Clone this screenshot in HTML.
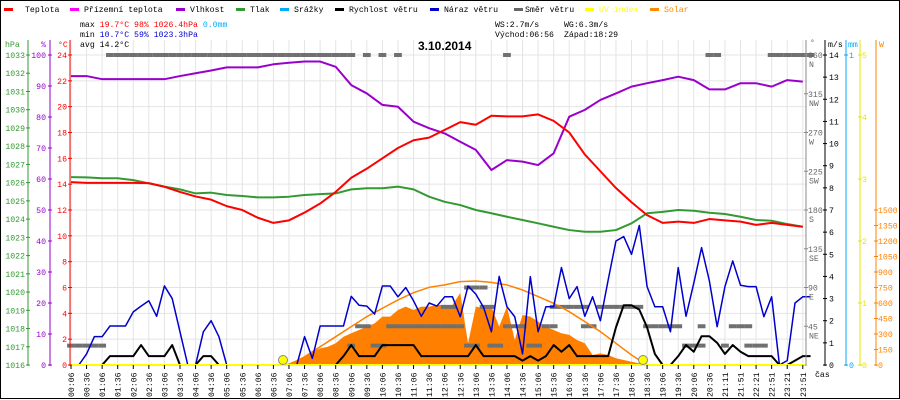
<!DOCTYPE html>
<html><head><meta charset="utf-8"><style>
html,body{margin:0;padding:0;background:#fff;}
svg{display:block;font-family:"Liberation Mono",monospace;}
</style></head><body>
<svg id="chart" width="900" height="400" viewBox="0 0 900 400" xmlns="http://www.w3.org/2000/svg">
<rect x="0.5" y="0.5" width="899" height="398" fill="#fff" stroke="#000"/>
<g id="grid"></g>
<g id="marks"></g>
<g id="axes"></g>
<g id="legend" font-size="8.2">
 <rect x="4" y="8" width="9" height="3" fill="#f00"/><text x="25" y="12">Teplota</text>
 <rect x="70" y="8" width="9" height="3" fill="#f0f"/><text x="84" y="12">Přízemní teplota</text>
 <rect x="176" y="8" width="9" height="3" fill="#90c"/><text x="190" y="12">Vlhkost</text>
 <rect x="236" y="8" width="9" height="3" fill="#393"/><text x="250" y="12">Tlak</text>
 <rect x="280" y="8" width="9" height="3" fill="#0af"/><text x="294" y="12">Srážky</text>
 <rect x="335" y="8" width="9" height="3" fill="#000"/><text x="349" y="12">Rychlost větru</text>
 <rect x="430" y="8" width="9" height="3" fill="#00c"/><text x="444" y="12">Náraz větru</text>
 <rect x="514" y="8" width="9" height="3" fill="#666"/><text x="525" y="12">Směr větru</text>
 <rect x="585" y="8" width="9" height="3" fill="#ff0"/><text x="599" y="12" fill="#ff0">UV index</text>
 <rect x="650" y="8" width="9" height="3" fill="#f80"/><text x="664" y="12" fill="#f80">Solar</text>
</g>
<g id="stats" font-size="8.2">
 <text x="80" y="27">max <tspan fill="#f00">19.7°C  98%  1026.4hPa</tspan>   <tspan fill="#0af">0.0mm</tspan></text>
 <text x="80" y="37">min <tspan fill="#00c">10.7°C  59%  1023.3hPa</tspan></text>
 <text x="80" y="47">avg 14.2°C</text>
 <text x="495" y="27">WS:2.7m/s</text>
 <text x="564" y="27">WG:6.3m/s</text>
 <text x="495" y="37">Východ:06:56</text>
 <text x="564" y="37">Západ:18:29</text>
</g>
<text x="418" y="50" font-family="Liberation Sans,sans-serif" font-weight="bold" font-size="12">3.10.2014</text>
</svg>
<script>
const timeLabels=["00:06","00:36","01:06","01:36","02:06","02:36","03:06","03:36","04:06","04:36","05:06","05:36","06:06","06:36","07:06","07:36","08:06","08:36","09:06","09:36","10:06","10:36","11:06","11:36","12:06","12:36","13:06","13:36","14:06","14:36","15:06","15:36","16:06","16:36","17:06","17:36","18:06","18:36","19:06","19:36","20:06","20:36","21:11","21:51","22:21","22:51","23:21","23:51"];
const temperature=[14.16,14.1,14.1,14.1,14.1,14.08,13.8,13.4,13.05,12.8,12.3,12.0,11.4,11.0,11.2,11.8,12.5,13.4,14.5,15.2,16.0,16.8,17.4,17.6,18.2,18.8,18.6,19.3,19.25,19.25,19.4,18.9,18.0,16.3,15.0,13.7,12.6,11.6,11.0,11.1,11.0,11.3,11.2,11.1,10.85,11.0,10.85,10.7];
const humidity=[93.2,93.2,92.2,92.2,92.2,92.2,92.2,93.2,94.1,95,96,96,96,97,97.5,97.9,97.9,96.2,90.3,87.6,83.9,83.3,78.5,76.4,74.7,72,69.4,62.9,66.1,65.6,64.5,68.3,80.1,82.3,85.5,87.6,89.8,90.9,91.9,93,91.9,88.9,88.9,90.9,90.9,89.8,91.9,91.4];
const pressure=[1026.3,1026.29,1026.24,1026.24,1026.14,1025.96,1025.78,1025.63,1025.41,1025.45,1025.32,1025.27,1025.19,1025.19,1025.23,1025.32,1025.37,1025.41,1025.63,1025.69,1025.69,1025.78,1025.63,1025.23,1024.95,1024.77,1024.5,1024.32,1024.13,1023.95,1023.77,1023.58,1023.4,1023.31,1023.31,1023.4,1023.77,1024.32,1024.4,1024.5,1024.46,1024.35,1024.28,1024.13,1023.95,1023.91,1023.73,1023.58];
const windSpeed=[0,0,0,0,0,0.4,0.4,0.4,0.4,0.9,0.4,0.4,0.4,0.9,0,0,0,0.4,0.4,0,0,0,0,0,0,0,0,0,0,0,0,0,0,0,0,0.4,0.9,0.4,0.4,0.4,0.9,0.9,0.9,0.9,0.9,0.4,0.4,0.4,
0.4,0.4,0.4,0.4,0.9,0.4,0.4,0.4,0.4,0.4,0.2,0.4,0.2,0.4,0.9,0.6,0.9,0.4,0.4,0.4,0.4,0.4,1.7,2.7,2.7,2.5,1.7,0.5,0,0,0.4,0.9,0.6,1.3,1.3,1.0,0.5,0.9,0.6,0.4,0.4,0.4,0.4,0,0,0.2,0.4,0.4];
const windGust=[0,0,0.5,1.28,1.28,1.76,1.76,1.76,2.4,2.66,2.9,2.2,3.57,3.0,1.5,0,0,1.5,2.0,1.28,0,0,0,0,0,0,0,0,0,0,1.28,0.3,1.76,1.76,1.76,1.76,3.1,2.7,2.66,2.3,3.57,3.57,3.08,3.5,2.9,2.2,2.8,2.66,
3.08,3.08,2.18,3.57,3.2,2.6,1.5,4.0,2.63,2.18,0.5,3.99,1.5,2.63,2.63,4.4,3.0,3.54,2.2,3.08,2.0,3.84,5.6,5.8,5.0,6.3,3.54,2.63,2.63,1.5,4.4,2.2,3.7,5.3,3.8,1.73,3.54,4.7,3.6,3.54,3.54,2.18,3.08,0,0.2,2.8,3.08,3.08];
const solarStart=27;
const solar=[0,16,48,81,129,161,177,210,274,307,339,371,403,468,468,532,565,532,565,565,581,581,581,697,210,565,549,565,371,565,242,484,468,420,371,339,307,291,242,210,97,113,97,65,48,32,16,0];
const solarTheoryStart=14;
const solarTheory=[0,80,177,274,371,468,549,630,700,752,775,807,813,800,775,726,662,597,516,420,323,210,97,0];
const dirMain=[22.5,22.5,22.5,22.5,22.5,360,360,360,360,360,360,360,360,360,360,360,360,360,360,360,360,360,360,360,360,360,360,360,360,360,360,360,360,360,360,360,360,45,45,22.5,22.5,45,45,45,45,45,45,45,
45,67.5,45,90,90,90,67.5,22.5,45,45,45,22.5,22.5,45,67.5,67.5,67.5,67.5,67.5,45,67.5,67.5,67.5,67.5,67.5,67.5,45,45,45,45,45,22.5,22.5,22.5,360,360,22.5,45,45,45,22.5,22.5,360,360,360,360,360,360];
const dirAlt=[null,null,null,null,null,null,null,null,null,null,null,null,null,null,null,null,null,null,null,null,null,null,null,null,null,null,null,null,null,null,null,null,null,null,null,null,22.5,null,360,null,360,null,360,null,null,null,null,null,
67.5,45,null,22.5,22.5,67.5,22.5,null,360,null,null,null,null,null,45,null,null,null,45,null,null,null,null,null,null,null,null,null,null,null,null,null,null,45,null,null,null,null,null,22.5,null,null,null,null,null,null,null,null];

const NS='http://www.w3.org/2000/svg';
const xi=i=>71+i*15.57, xk=k=>71+k*7.785;
const yT=t=>365-t*12.917, yH=h=>365-h*3.1, yP=p=>365-(p-1016)*18.235;
const yW=v=>365-v*22.143, yS=w=>365-w*0.10333, yD=d=>365-d*0.8611;
const yUV=u=>365-u*62, yMM=m=>365-m*310;
function mk(tag,attrs,parent){const e=document.createElementNS(NS,tag);for(const a in attrs)e.setAttribute(a,attrs[a]);parent.appendChild(e);return e;}
const grid=document.getElementById('grid'),marks=document.getElementById('marks'),axes=document.getElementById('axes');

for(let i=0;i<timeLabels.length;i++){const l=mk('line',{x1:xi(i),x2:xi(i),y1:40,y2:365,stroke:'#e4e4e4'},grid);

}
for(let t=0;t<=24;t+=2){const l=mk('line',{x1:70,x2:806,y1:yT(t),y2:yT(t),stroke:'#e4e4e4'},grid);

}

// solar fill
let sp=`M${xk(solarStart)},365 `;solar.forEach((w,j)=>{sp+=`L${xk(solarStart+j)},${yS(w)} `;});sp+=`L${xk(solarStart+solar.length-1)},365Z`;
const sf=mk('path',{d:sp,fill:'#ff8000'},marks);


// wind direction bars
function dirBars(arr,name){arr.forEach((d,k)=>{if(d===null)return;const r=mk('rect',{x:xk(k)-3.9,y:yD(d)-2,width:7.8,height:4,fill:'#707070'},marks);

});}
dirBars(dirMain,'wind-direction-bar');dirBars(dirAlt,'wind-direction-bar-alt');
// solar theory
const st=mk('polyline',{points:solarTheory.map((w,j)=>xi(solarTheoryStart+j)+','+yS(w)).join(' '),fill:'none',stroke:'#ff8000','stroke-width':1.5},marks);


function line(vals,xf,yf,col,w,name){const p=mk('polyline',{points:vals.map((v,i)=>xf(i)+','+yf(v)).join(' '),fill:'none',stroke:col,'stroke-width':w,'stroke-linejoin':'round'},marks);

}
line(pressure,xi,yP,'#339933',2,'pressure-line');
line(humidity,xi,yH,'#9900cc',2,'humidity-line');
line(temperature,xi,yT,'#ff0000',2,'temperature-line');
line(windGust,xk,yW,'#0000cc',1.5,'wind-gust-line');
line(windSpeed,xk,yW,'#000000',2,'wind-speed-line');
const uv=mk('line',{x1:70,x2:806,y1:365,y2:365,stroke:'#ffff00','stroke-width':2},marks);


[[283,'sunrise-marker'],[643,'sunset-marker']].forEach(([x,n])=>{const c=mk('circle',{cx:x,cy:360,r:4.5,fill:'#ffff00',stroke:'#888','stroke-width':1},marks);

});

// x ticks & labels
timeLabels.forEach((t,i)=>{mk('line',{x1:xi(i),x2:xi(i),y1:365,y2:369,stroke:'#000'},axes);
const tx=mk('text',{x:0,y:0,'font-size':8.2,transform:`translate(${xi(i)+3},397) rotate(-90)`},axes);tx.textContent=t;

});
const cas=mk('text',{x:815,y:377,'font-size':8.2},axes);cas.textContent='čas';



function axis(x,col,name,header,hx,ticks,yf,lx,anchor,fs){
 const a=mk('line',{x1:x,x2:x,y1:40,y2:366,stroke:col,'stroke-width':1},axes);
 
 
 const h=mk('text',{x:hx,y:47,fill:col,'font-size':8.2},axes);h.textContent=header;
 
 
 ticks.forEach(v=>{const y=yf(v);mk('line',{x1:x-2,x2:x+2,y1:y,y2:y,stroke:col},axes);
 const t=mk('text',{x:lx,y:y+3,fill:col,'font-size':fs||8.2,'text-anchor':anchor},axes);t.textContent=v;
 
 });
}
const hpaTicks=[1016,1017,1018,1019,1020,1021,1022,1023,1024,1025,1026,1027,1028,1029,1030,1031,1032,1033];
const humTicks=[0,10,20,30,40,50,60,70,80,90,100];
const tempTicks=[0,2,4,6,8,10,12,14,16,18,20,22,24];
const msTicks=[0,1,2,3,4,5,6,7,8,9,10,11,12,13,14];
const uvTicks=[0,1,2,3,4,5];
const mmTicks=[0,1];
const wTicks=[0,150,300,450,600,750,900,1050,1200,1350,1500];
axis(28,'#339933','pressure','hPa',5,hpaTicks,yP,25,'end');
axis(50,'#9900cc','humidity','%',41,humTicks,yH,46,'end');
axis(70,'#ff0000','temperature','°C',58,tempTicks,yT,67,'end');
axis(825,'#000','wind-speed','m/s',828,msTicks,yW,829,'start');
axis(846,'#00aaff','precip','mm',848,mmTicks,yMM,849,'start');
axis(860,'#e6e600','uv','',860,uvTicks,yUV,862,'start');
axis(876,'#ff8000','solar','W',879,wTicks,yS,878,'start');
// direction axis
const dirTicks=[360,315,270,225,180,135,90,45];
const dirNames=['N','NW','W','SW','S','SE','E','NE'];
const da=mk('line',{x1:806,x2:806,y1:40,y2:366,stroke:'#888'},axes);


const dh=mk('text',{x:810,y:45,fill:'#666','font-size':8.2},axes);dh.textContent='°';


dirTicks.forEach((d,i)=>{const y=yD(d);mk('line',{x1:804,x2:808,y1:y,y2:y,stroke:'#888'},axes);
const t=mk('text',{x:808,y:y+3,fill:'#666','font-size':8.2},axes);t.textContent=d;


const n=mk('text',{x:809,y:y+12,fill:'#666','font-size':8.2},axes);n.textContent=dirNames[i];

});
</script>
</body></html>
